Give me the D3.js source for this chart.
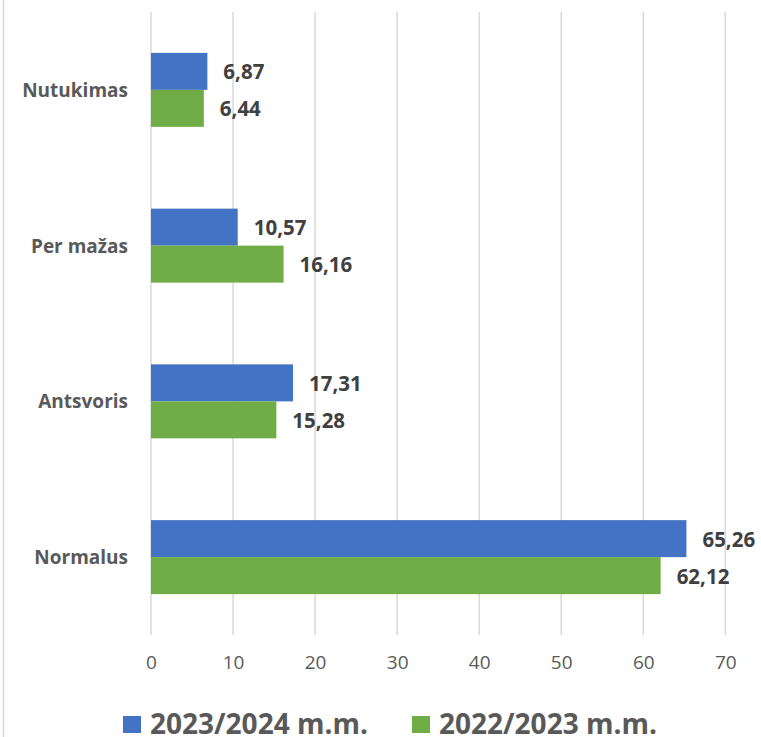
<!DOCTYPE html>
<html><head><meta charset="utf-8">
<script src="https://cdn.jsdelivr.net/npm/d3@7"></script>
<style>body{margin:0;background:#fff}svg{display:block}</style>
</head><body><div id="chart"></div>
<script>
const categories = ["Nutukimas", "Per mažas", "Antsvoris", "Normalus"];
const seriesNames = ["2023/2024 m.m.", "2022/2023 m.m."];
const values2324 = [6.87, 10.57, 17.31, 65.26];
const values2223 = [6.44, 16.16, 15.28, 62.12];
const xTicks = [0, 10, 20, 30, 40, 50, 60, 70];
const colors = ["#4472C4", "#70AD47"];

const W = 761, H = 737;
const svg = d3.select("#chart").append("svg").attr("width", W).attr("height", H);
const font = "'Open Sans', sans-serif";

// left border
svg.append("line").attr("x1", 3.5).attr("x2", 3.5).attr("y1", 0).attr("y2", H)
  .attr("stroke", "#d9d9d9").attr("stroke-width", 1.5);

const x = d3.scaleLinear().domain([0, 70]).range([151, 725.3]);
const y = d3.scaleBand().domain(categories).range([12, 635]).paddingInner(0.525).paddingOuter(0.2625);
const ySub = d3.scaleBand().domain(seriesNames).range([0, y.bandwidth()]);

// gridlines
svg.append("g").selectAll("line").data(xTicks).join("line")
  .attr("x1", d => x(d)).attr("x2", d => x(d)).attr("y1", 12).attr("y2", 635)
  .attr("stroke", "#d9d9d9").attr("stroke-width", 1.5);

// tick labels
const xAxis = d3.axisBottom(x).tickValues(xTicks).tickSize(0).tickFormat(d3.format("d"));
const gx = svg.append("g").attr("transform", "translate(0,655)").call(xAxis);
gx.select(".domain").remove();
gx.selectAll("text").attr("font-family", font).attr("font-size", 19).attr("fill", "#595959").attr("dy", "0.71em").attr("y", 0);

// category labels
svg.append("g").selectAll("text").data(categories).join("text")
  .attr("x", 128).attr("y", d => y(d) + y.bandwidth() / 2)
  .attr("text-anchor", "end").attr("dominant-baseline", "central")
  .attr("font-family", font).attr("font-weight", "bold").attr("font-size", 19).attr("fill", "#595959")
  .text(d => d);

const data = categories.map((c, i) => ({c, vals: [values2324[i], values2223[i]]}));
const fmt = v => d3.format(".2f")(v).replace(".", ",");

const grp = svg.append("g").selectAll("g").data(data).join("g")
  .attr("transform", d => `translate(0,${y(d.c)})`);
grp.selectAll("rect").data(d => d.vals.map((v, j) => ({v, s: seriesNames[j], j}))).join("rect")
  .attr("x", x(0)).attr("y", d => ySub(d.s)).attr("width", d => x(d.v) - x(0))
  .attr("height", ySub.bandwidth()).attr("fill", d => colors[d.j]);
grp.selectAll("text").data(d => d.vals.map((v, j) => ({v, s: seriesNames[j], j}))).join("text")
  .attr("x", d => x(d.v) + 16).attr("y", d => ySub(d.s) + ySub.bandwidth() / 2)
  .attr("dominant-baseline", "central")
  .attr("font-family", font).attr("font-weight", "bold").attr("font-size", 20.5).attr("fill", "#404040")
  .text(d => fmt(d.v));

// legend
const legX = [123, 412];
const leg = svg.append("g").selectAll("g").data(seriesNames).join("g")
  .attr("transform", (d, i) => `translate(${legX[i]},0)`);
leg.append("rect").attr("x", 0).attr("y", 716).attr("width", 18).attr("height", 17)
  .attr("fill", (d, i) => colors[i]);
leg.append("text").attr("x", 27).attr("y", 723).attr("dominant-baseline", "central")
  .attr("font-family", font).attr("font-weight", "bold").attr("font-size", 28).attr("fill", "#595959")
  .text(d => d);
</script></body></html>
